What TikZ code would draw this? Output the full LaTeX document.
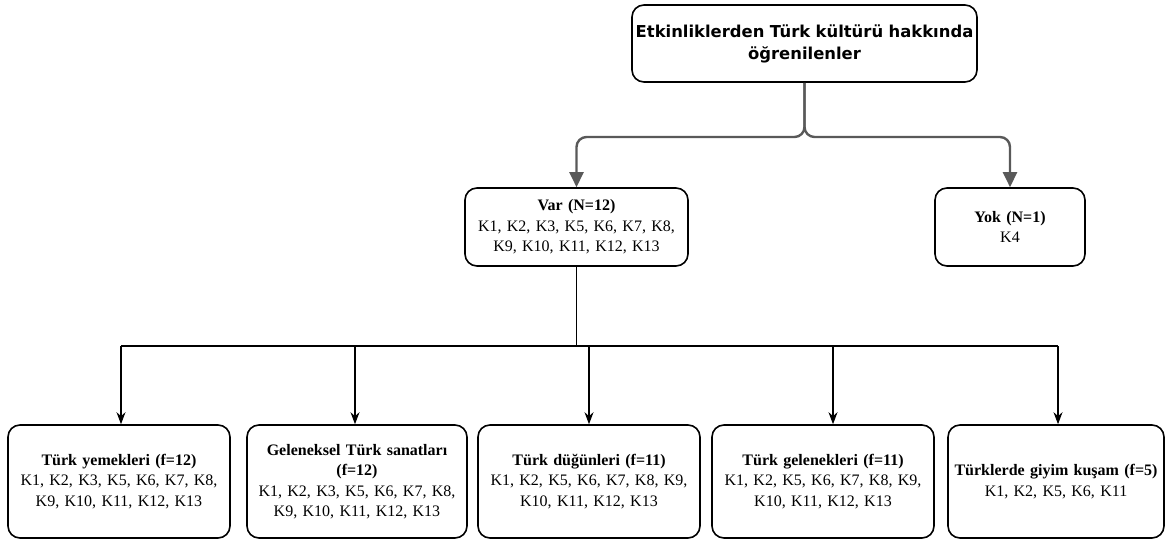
\documentclass[tikz,border=0pt]{standalone}
\usepackage{fontspec}
\setmainfont{Liberation Serif}
\newfontfamily\headfont{DejaVu Sans}
\usetikzlibrary{arrows.meta}
\definecolor{linegray}{HTML}{595959}
\tikzset{
  box/.style={draw=black, line width=1.6pt, rounded corners=12pt, align=center, inner sep=2pt,
    font=\fontsize{16}{20.5}\selectfont},
  leaf/.style={box, minimum height=113pt},
  mainline/.style={draw=linegray, line width=2.4pt, rounded corners=10pt,
    -{Triangle[length=15pt,width=14pt]}},
  busline/.style={draw=black, line width=1.2pt},
  subline/.style={draw=black, line width=1.1pt, -{Stealth[length=12pt,width=9pt]}}
}
\begin{document}
\begin{tikzpicture}[x=1pt,y=-1pt]
\useasboundingbox (0,0) rectangle (1166,545);
\coordinate (bar) at (0,137);
\coordinate (bus) at (0,346);
\coordinate (a1) at (121,346);
\coordinate (a2) at (355,346);
\coordinate (a3) at (589,346);
\coordinate (a4) at (833,346);
\coordinate (a5) at (1058,346);

\node [box, minimum width=345pt, minimum height=77pt, text width=340pt,
  font=\headfont\bfseries\fontsize{16.4}{22}\selectfont] (top) at (804.5,43.5)
  {Etkinliklerden Türk kültürü hakkında\\öğrenilenler};
\node [box, minimum width=223pt, minimum height=78pt, text width=215pt] (var) at (576.5,227)
  {\textbf{Var (N=12)}\\K1, K2, K3, K5, K6, K7, K8,\\K9, K10, K11, K12, K13};
\node [box, minimum width=150pt, minimum height=78pt, text width=142pt] (yok) at (1010,227)
  {\textbf{Yok (N=1)}\\K4};

\node [leaf, minimum width=222pt, text width=214pt] (b1) at (119,481.5)
  {\textbf{Türk yemekleri (f=12)}\\K1, K2, K3, K5, K6, K7, K8,\\K9, K10, K11, K12, K13};
\node [leaf, minimum width=220pt, text width=212pt] (b2) at (357,481.5)
  {\textbf{Geleneksel Türk sanatları}\\\textbf{(f=12)}\\K1, K2, K3, K5, K6, K7, K8,\\K9, K10, K11, K12, K13};
\node [leaf, minimum width=222pt, text width=214pt] (b3) at (589,481.5)
  {\textbf{Türk düğünleri (f=11)}\\K1, K2, K5, K6, K7, K8, K9,\\K10, K11, K12, K13};
\node [leaf, minimum width=222pt, text width=214pt] (b4) at (823,481.5)
  {\textbf{Türk gelenekleri (f=11)}\\K1, K2, K5, K6, K7, K8, K9,\\K10, K11, K12, K13};
\node [leaf, minimum width=216pt, text width=212pt] (b5) at (1056,481.5)
  {\textbf{Türklerde giyim kuşam (f=5)}\\K1, K2, K5, K6, K11};

\draw [mainline] (top.south) |- (bar -| var.north) -- (var.north);
\draw [mainline] (top.south) |- (bar -| yok.north) -- (yok.north);

\draw [busline] (var.south) -- (var.south |- bus);
\draw [busline] (a1) -- (a5);
\draw [subline] (a1) -- (a1 |- b1.north);
\draw [subline] (a2) -- (a2 |- b2.north);
\draw [subline] (a3) -- (a3 |- b3.north);
\draw [subline] (a4) -- (a4 |- b4.north);
\draw [subline] (a5) -- (a5 |- b5.north);
\end{tikzpicture}
\end{document}
